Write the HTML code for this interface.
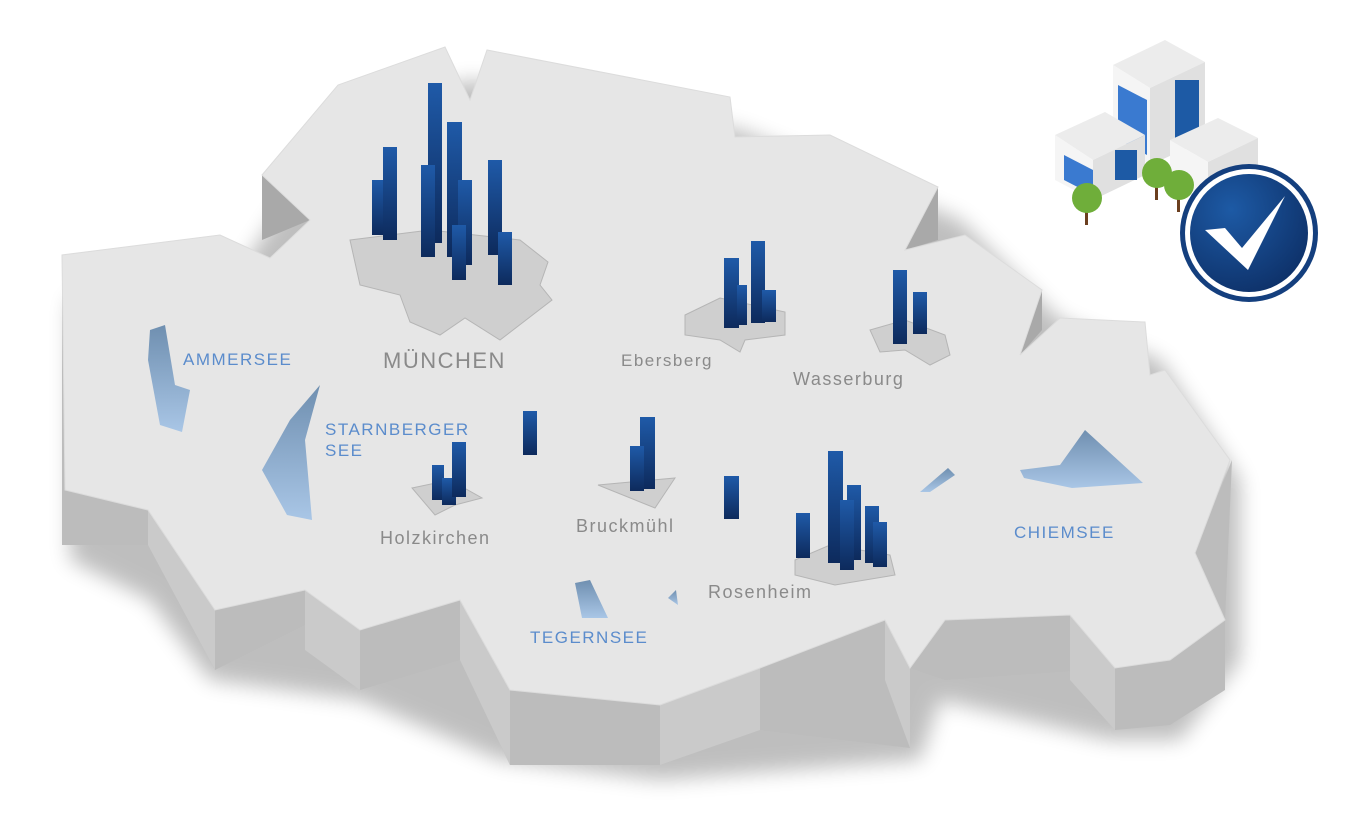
<!DOCTYPE html>
<html><head><meta charset="utf-8"><style>
html,body{margin:0;padding:0;background:#fff;}
svg{display:block}
text{font-family:"Liberation Sans",sans-serif;letter-spacing:1.5px}
</style></head><body>
<svg width="1363" height="818" viewBox="0 0 1363 818" xmlns="http://www.w3.org/2000/svg">
<defs>
<linearGradient id="bar" x1="0" y1="0" x2="0" y2="1"><stop offset="0" stop-color="#1f5aa8"/><stop offset="1" stop-color="#0d2a5c"/></linearGradient>
<linearGradient id="lake" x1="0" y1="0" x2="0" y2="1"><stop offset="0" stop-color="#6f8fb0"/><stop offset="1" stop-color="#a9c6e6"/></linearGradient>
<radialGradient id="chk" cx="0.35" cy="0.3" r="0.8"><stop offset="0" stop-color="#1d5aa5"/><stop offset="1" stop-color="#0d2f66"/></radialGradient>
<filter id="sh" x="-10%" y="-10%" width="120%" height="130%"><feGaussianBlur stdDeviation="10"/></filter>
</defs>
<path d="M70,300 L240,270 L340,120 L470,80 L740,130 L960,220 L1060,320 L1160,360 L1240,480 L1240,660 L1180,740 L1110,740 L940,700 L920,760 L660,780 L500,760 L360,700 L210,680 L150,600 L70,560Z" fill="#000" opacity="0.25" filter="url(#sh)"/>
<g fill="#bcbcbc">
<path d="M62,255 L62,545 L148,545 L215,670 L305,625 L360,690 L460,660 L510,765 L660,765 L760,730 L910,748 L910,668 L945,680 L1115,668 L1115,730 L1170,725 L1225,690 L1225,620 L1232,460 L1195,553 L1195,553Z"/>
<path d="M262,175 L262,240 L310,220Z" fill="#a9a9a9"/>
<path d="M938,187 L905,250 L938,240Z" fill="#a9a9a9"/>
<path d="M1042,290 L1020,355 L1042,330Z" fill="#a9a9a9"/>
</g>
<g fill="#cacaca">
<path d="M148,510 L148,545 L215,670 L215,610Z"/>
<path d="M305,590 L305,650 L360,690 L360,630Z"/>
<path d="M460,600 L510,690 L510,765 L460,660Z"/>
<path d="M660,705 L660,765 L760,730 L760,668Z"/>
<path d="M885,620 L910,668 L910,748 L885,680Z"/>
<path d="M1070,615 L1115,668 L1115,730 L1070,680Z"/>
</g>
<path d="M262,175 L338,85 L445,47 L470,100 L487,50 L730,97 L735,137 L830,135 L938,187 L905,250 L965,235 L1042,290 L1020,355 L1060,318 L1145,322 L1150,375 L1165,370 L1230,460 L1195,553 L1225,620 L1170,660 L1115,668 L1070,615 L945,620 L910,668 L885,620 L760,668 L660,705 L510,690 L460,600 L360,630 L305,590 L215,610 L148,510 L65,490 L62,255 L220,235 L270,258 L310,220 Z" fill="#e6e6e6" stroke="#dcdcdc"/>
<path d="M150,330 L165,325 L175,385 L190,390 L182,432 L160,425 L148,360Z" fill="url(#lake)"/>
<path d="M320,385 L290,420 L262,470 L287,515 L312,520 L305,440Z" fill="url(#lake)"/>
<path d="M1085,430 L1143,483 L1072,488 L1024,478 L1020,470 L1060,465Z" fill="url(#lake)"/>
<path d="M575,583 L590,580 L608,618 L582,618Z" fill="url(#lake)"/>
<path d="M668,598 L676,590 L678,605Z" fill="url(#lake)"/>
<path d="M920,492 L948,468 L955,475 L930,492Z" fill="url(#lake)"/>
<g fill="#cfcfcf" stroke="#b5b5b5">
<path d="M350,240 L430,230 L520,240 L548,262 L540,285 L552,300 L500,340 L465,318 L440,335 L410,322 L400,295 L360,285Z"/>
<path d="M685,315 L720,298 L785,312 L785,335 L745,340 L740,352 L720,340 L685,335Z"/>
<path d="M870,330 L905,320 L945,335 L950,355 L930,365 L905,350 L880,352Z"/>
<path d="M412,488 L450,480 L482,498 L455,505 L435,515Z"/>
<path d="M598,485 L675,478 L655,508Z"/>
<path d="M795,560 L830,545 L890,555 L895,575 L835,585 L795,575Z"/>
</g>
<g fill="url(#bar)">
<rect x="372" y="180" width="12" height="55"/><rect x="383" y="147" width="14" height="93"/>
<rect x="428" y="83" width="14" height="160"/><rect x="421" y="165" width="14" height="92"/>
<rect x="447" y="122" width="15" height="135"/><rect x="458" y="180" width="14" height="85"/>
<rect x="452" y="225" width="14" height="55"/><rect x="488" y="160" width="14" height="95"/>
<rect x="498" y="232" width="14" height="53"/>
<rect x="724" y="258" width="15" height="70"/><rect x="737" y="285" width="10" height="40"/>
<rect x="751" y="241" width="14" height="82"/><rect x="762" y="290" width="14" height="32"/>
<rect x="893" y="270" width="14" height="74"/><rect x="913" y="292" width="14" height="42"/>
<rect x="523" y="411" width="14" height="44"/>
<rect x="432" y="465" width="12" height="35"/><rect x="442" y="478" width="14" height="27"/><rect x="452" y="442" width="14" height="55"/>
<rect x="640" y="417" width="15" height="72"/><rect x="630" y="446" width="14" height="45"/>
<rect x="724" y="476" width="15" height="43"/>
<rect x="796" y="513" width="14" height="45"/><rect x="828" y="451" width="15" height="112"/>
<rect x="847" y="485" width="14" height="75"/><rect x="840" y="500" width="14" height="70"/>
<rect x="865" y="506" width="14" height="57"/><rect x="873" y="522" width="14" height="45"/>
</g>
<text x="383" y="368" font-size="22" fill="#8a8a8a" letter-spacing="4.5">MÜNCHEN</text>
<text x="621" y="366" font-size="17" fill="#8a8a8a" letter-spacing="1">Ebersberg</text>
<text x="793" y="385" font-size="18" fill="#8a8a8a" letter-spacing="1">Wasserburg</text>
<text x="380" y="544" font-size="18" fill="#8a8a8a" letter-spacing="1">Holzkirchen</text>
<text x="576" y="532" font-size="18" fill="#8a8a8a" letter-spacing="1">Bruckmühl</text>
<text x="708" y="598" font-size="18" fill="#8a8a8a" letter-spacing="1">Rosenheim</text>
<g fill="#5b8ccc" font-size="17" letter-spacing="2">
<text x="183" y="365">AMMERSEE</text>
<text x="325" y="435">STARNBERGER</text>
<text x="325" y="456">SEE</text>
<text x="1014" y="538">CHIEMSEE</text>
<text x="530" y="643">TEGERNSEE</text>
</g>
<g>
<path d="M1113,65 L1165,40 L1205,62 L1150,88Z" fill="#ececec"/>
<path d="M1113,65 L1150,88 L1150,165 L1113,145Z" fill="#f5f5f5"/>
<path d="M1150,88 L1205,62 L1205,140 L1150,165Z" fill="#e0e0e0"/>
<path d="M1118,85 L1147,100 L1147,155 L1118,140Z" fill="#3a7ad0"/>
<rect x="1175" y="80" width="24" height="60" fill="#1d5aa5"/>
<path d="M1055,135 L1105,112 L1145,135 L1093,160Z" fill="#ececec"/>
<path d="M1055,135 L1093,160 L1093,200 L1055,180Z" fill="#f5f5f5"/>
<path d="M1093,160 L1145,135 L1145,175 L1093,200Z" fill="#e0e0e0"/>
<path d="M1064,155 L1093,170 L1093,195 L1064,180Z" fill="#3a7ad0"/>
<rect x="1115" y="150" width="22" height="30" fill="#1d5aa5"/>
<path d="M1170,140 L1218,118 L1258,138 L1208,162Z" fill="#ececec"/>
<path d="M1170,140 L1208,162 L1208,200 L1170,180Z" fill="#f5f5f5"/>
<path d="M1208,162 L1258,138 L1258,175 L1208,200Z" fill="#e0e0e0"/>
<rect x="1085" y="205" width="3" height="20" fill="#6b3f1f"/><circle cx="1087" cy="198" r="15" fill="#6fae3a"/>
<rect x="1155" y="180" width="3" height="20" fill="#6b3f1f"/><circle cx="1157" cy="173" r="15" fill="#6fae3a"/>
<rect x="1177" y="192" width="3" height="20" fill="#6b3f1f"/><circle cx="1179" cy="185" r="15" fill="#6fae3a"/>
<circle cx="1249" cy="233" r="69" fill="#143f7e"/>
<circle cx="1249" cy="233" r="64" fill="#fff"/>
<circle cx="1249" cy="233" r="59" fill="url(#chk)"/>
<path d="M1205,230 L1225,228 L1242,248 L1285,196 L1248,270Z" fill="#fff"/>
</g>
</svg>
</body></html>
